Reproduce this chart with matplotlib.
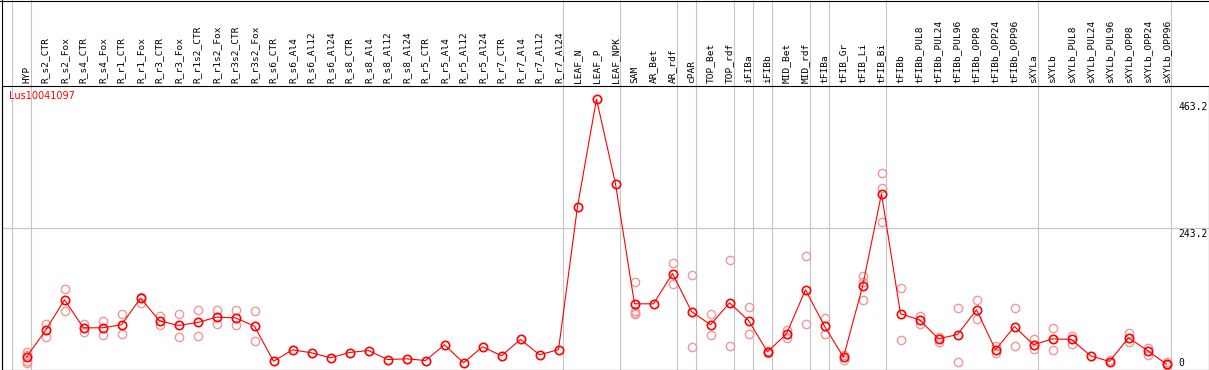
import matplotlib
matplotlib.use("Agg")
import matplotlib.pyplot as plt
from matplotlib.lines import Line2D

# ---------------- data ----------------
categories = [
    "HYP", "R_s2_CTR", "R_s2_Fox", "R_s4_CTR", "R_s4_Fox", "R_r1_CTR", "R_r1_Fox",
    "R_r3_CTR", "R_r3_Fox", "R_r1s2_CTR", "R_r1s2_Fox", "R_r3s2_CTR", "R_r3s2_Fox",
    "R_s6_CTR", "R_s6_Al4", "R_s6_Al12", "R_s6_Al24", "R_s8_CTR", "R_s8_Al4",
    "R_s8_Al12", "R_s8_Al24", "R_r5_CTR", "R_r5_Al4", "R_r5_Al12", "R_r5_Al24",
    "R_r7_CTR", "R_r7_Al4", "R_r7_Al12", "R_r7_Al24", "LEAF_N", "LEAF_P", "LEAF_NPK",
    "SAM", "AR_Bet", "AR_rdf", "cPAR", "TOP_Bet", "TOP_rdf", "iFIBa", "iFIBb",
    "MID_Bet", "MID_rdf", "tFIBa", "tFIB_Gr", "tFIB_Li", "tFIB_Bi", "tFIBb",
    "tFIBb_PUL8", "tFIBb_PUL24", "tFIBb_PUL96", "tFIBb_OPP8", "tFIBb_OPP24",
    "tFIBb_OPP96", "sXYLa", "sXYLb", "sXYLb_PUL8", "sXYLb_PUL24", "sXYLb_PUL96",
    "sXYLb_OPP8", "sXYLb_OPP24", "sXYLb_OPP96",
]

mean_values = [
    21.4, 66.8, 119.4, 71.4, 71.4, 76.6, 122.1, 83.4, 75.4, 80.5, 89.6, 88.5, 74.2,
    14.2, 33.7, 28.6, 20.0, 29.1, 32.5, 17.1, 18.3, 15.4, 42.3, 11.5, 38.9,
    23.5, 51.4, 25.2, 34.0, 279.0, 463.2, 318.0,
    112.5, 112.5, 164.4, 99.3, 76.6, 114.2, 83.9, 30.3,
    61.1, 136.5, 74.2, 21.1, 142.2, 300.9, 95.4,
    85.1, 52.6, 59.9, 102.2, 33.7, 73.6, 42.3, 52.6, 51.4, 23.5, 13.7,
    54.3, 32.5, 9.1,
]

# replicate measurements (index into categories, value)
replicate_index = [
    0, 0, 0, 0, 1, 1, 2, 2, 3, 3, 4, 4, 5, 5, 6, 6, 7, 7, 8, 8, 9, 9, 10, 10,
    11, 11, 12, 12, 32, 32, 32, 32, 34, 34, 35, 35, 36, 36, 37, 37, 38, 38,
    39, 39, 40, 40, 41, 41, 42, 42, 43, 43, 44, 44, 44, 45, 45, 45, 46, 46,
    47, 47, 48, 48, 49, 49, 50, 50, 51, 51, 52, 52, 53, 53, 54, 54, 55, 55,
    57, 58, 58, 59, 59, 60, 60,
]
replicate_values = [
    29.6, 24.0, 15.4, 10.8, 77.1, 55.3, 138.2, 99.8, 78.3, 63.9, 83.9, 59.9,
    94.2, 61.1, 125.0, 113.6, 90.8, 76.6, 95.4, 55.3, 102.2, 57.0, 102.2, 78.3,
    102.2, 76.6, 99.8, 48.0, 150.7, 101.0, 97.6, 95.1, 182.7, 146.8, 162.2, 37.7,
    95.4, 59.4, 187.9, 39.4, 107.4, 61.1, 32.5, 27.9, 66.8, 54.3, 194.7, 78.3,
    88.5, 61.1, 25.2, 16.6, 159.3, 149.5, 119.4, 336.9, 311.2, 252.3, 139.9, 50.9,
    90.8, 78.3, 56.5, 46.8, 105.7, 13.7, 119.4, 86.8, 39.4, 27.9, 105.7, 40.6,
    52.6, 35.5, 71.4, 33.7, 58.2, 44.0, 15.9, 62.2, 46.8, 36.5, 25.2, 13.7, 6.9,
]

# group separators: a grey line follows each of these categories (-1 = left edge)
separator_after = [-1, 0, 28, 31, 34, 35, 37, 38, 39, 41, 42, 45, 53, 60]

y_max = 486.4
y_ticks = [463.2, 243.2, 0]
y_tick_labels = ["463.2", "243.2", "0"]
gene_name = "Lus10041097"

# ---------------- figure ----------------
W, H = 1209, 370
fig = plt.figure(figsize=(W / 100, H / 100), dpi=100)
fig.patch.set_facecolor("white")

left_px, right_px = 1.5, 1208.5
top_px, bottom_px = 85.5, 369.5
ax = fig.add_axes([left_px / W, (H - bottom_px) / H,
                   (right_px - left_px) / W, (bottom_px - top_px) / H])
x0_px, step_px = 26.5, 19.0
ax.set_xlim((left_px - x0_px) / step_px, (right_px - x0_px) / step_px)
ax.set_ylim(0, y_max)
ax.set_xticks([])
ax.set_yticks([])
for s in ax.spines.values():
    s.set_color("black")
    s.set_linewidth(0.8)

grid_c = "#c4c4c4"
header_extent = 1 + (top_px) / (bottom_px - top_px)
for s in separator_after:
    ax.axvline(s + 0.24, ymin=0, ymax=header_extent, color=grid_c,
               lw=0.8, clip_on=False, zorder=0)
ax.axhline(243.2, color=grid_c, lw=0.8, zorder=0)

# outer frame lines (header region)
fig.add_artist(Line2D([left_px / W, left_px / W], [0, 1], color="black", lw=0.8))
fig.add_artist(Line2D([0, 1], [1 - 0.5 / H, 1 - 0.5 / H], color="black", lw=0.8))

xs = list(range(len(categories)))

# replicate points
ax.plot(replicate_index, replicate_values, linestyle="none", marker="o",
        markersize=6, markerfacecolor="none", markeredgecolor="#f09898",
        markeredgewidth=1.0, clip_on=False, zorder=2)
# mean line + points
ax.plot(xs, mean_values, color="#ff0000", lw=0.8, marker="o", markersize=6,
        markerfacecolor="none", markeredgecolor="#ff0000", markeredgewidth=1.2,
        clip_on=False, zorder=3)

# category labels
for i, name in enumerate(categories):
    ax.annotate(name, xy=(i, 1), xycoords=("data", "axes fraction"),
                xytext=(0, 2.5), textcoords="offset pixels",
                rotation=90, ha="center", va="bottom",
                fontsize=6.8, family="DejaVu Sans Mono", color="black")

# gene name
ax.annotate(gene_name, xy=(0, 1), xycoords="axes fraction",
            xytext=(7.8, -5.5), textcoords="offset pixels",
            ha="left", va="top", color="#ff0000", fontsize=7,
            family="DejaVu Sans")

# right-side value labels
offsets = {"463.2": ("top", -3), "243.2": ("top", -1), "0": ("baseline", 3.5)}
for v, lab in zip(y_ticks, y_tick_labels):
    va, dy = offsets[lab]
    ax.annotate(lab, xy=(1, v), xycoords=("axes fraction", "data"),
                xytext=(1178.7 - right_px, dy), textcoords="offset pixels",
                ha="left", va=va, fontsize=7, family="DejaVu Sans Mono",
                color="black", annotation_clip=False)

fig.savefig("out.png", dpi=100)
